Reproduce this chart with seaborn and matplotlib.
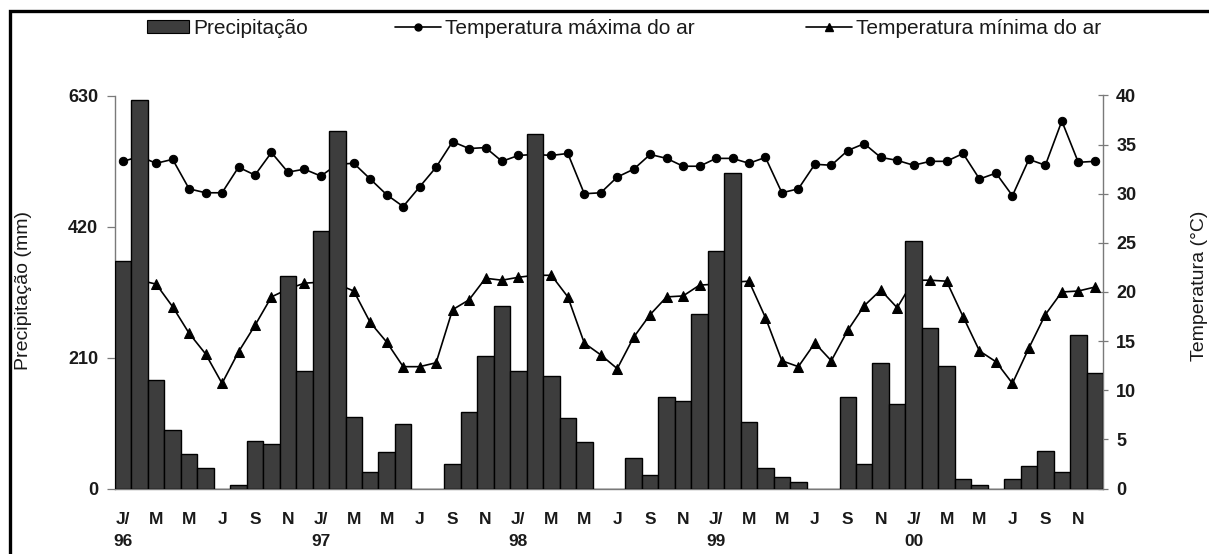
import numpy as np
import pandas as pd
import matplotlib
matplotlib.use("Agg")
import matplotlib.pyplot as plt
import seaborn as sns
from matplotlib.patches import Patch
from matplotlib.lines import Line2D

# ---------------- data (Jan/1996 .. Dec/2000) ----------------
years = ["96", "97", "98", "99", "00"]
month_letters = ["J/", "M", "M", "J", "S", "N"]  # labels on every 2nd month

precipitacao = [364, 622, 174, 93, 56, 33, 0, 5, 76, 72, 340, 189,
                412, 573, 115, 26, 58, 104, 0, 0, 39, 123, 212, 292,
                188, 568, 180, 113, 75, 0, 0, 49, 22, 147, 141, 279,
                381, 506, 107, 33, 18, 10, 0, 0, 147, 40, 201, 135,
                396, 258, 196, 15, 5, 0, 15, 36, 60, 26, 246, 185]

temp_max = [33.3, 33.8, 33.1, 33.5, 30.5, 30.1, 30.1, 32.7, 31.9, 34.2, 32.2, 32.5,
            31.8, 33.0, 33.1, 31.5, 29.9, 28.7, 30.7, 32.7, 35.3, 34.6, 34.7, 33.3,
            33.9, 34.0, 33.9, 34.1, 30.0, 30.1, 31.7, 32.5, 34.0, 33.6, 32.8, 32.8,
            33.6, 33.6, 33.1, 33.7, 30.1, 30.5, 33.0, 32.9, 34.4, 35.1, 33.7, 33.4,
            32.9, 33.3, 33.3, 34.1, 31.5, 32.1, 29.8, 33.5, 32.9, 37.4, 33.2, 33.3]

temp_min = [21.5, 21.2, 20.8, 18.5, 15.8, 13.7, 10.7, 13.9, 16.6, 19.5, 20.3, 20.9,
            21.0, 20.8, 20.1, 16.9, 14.9, 12.4, 12.4, 12.8, 18.2, 19.2, 21.4, 21.2,
            21.5, 21.7, 21.7, 19.5, 14.8, 13.6, 12.2, 15.4, 17.7, 19.5, 19.6, 20.7,
            20.8, 21.0, 21.1, 17.4, 13.0, 12.4, 14.8, 13.0, 16.1, 18.6, 20.2, 18.4,
            21.2, 21.2, 21.1, 17.5, 14.0, 12.9, 10.7, 14.3, 17.7, 20.0, 20.1, 20.5]

legend_labels = ["Precipitação", "Temperatura máxima do ar", "Temperatura mínima do ar"]

n = len(precipitacao)
df = pd.DataFrame({"mes": np.arange(n), "precip": precipitacao,
                   "tmax": temp_max, "tmin": temp_min})

# ---------------- style ----------------
sns.set_style("white")
plt.rcParams["font.family"] = ["Liberation Sans", "DejaVu Sans"]
TXT = "#1a1a1a"
SPINE = "#7a7a7a"
BAR = "#3d3d3d"

W, H = 1209, 554
fig = plt.figure(figsize=(W / 100, H / 100), dpi=100)
axT = fig.add_axes([115 / W, 1 - 488.5 / H, 988 / W, 393 / H])
axP = axT.twinx()

# temperature lines (drawn below the bars)
sns.lineplot(data=df, x="mes", y="tmax", ax=axT, color="black", linewidth=1.2,
             marker="o", markersize=6, markeredgecolor="black", zorder=2)
sns.lineplot(data=df, x="mes", y="tmin", ax=axT, color="black", linewidth=1.2,
             marker="^", markersize=7, markeredgecolor="black", zorder=2)

# precipitation bars (on top)
sns.barplot(data=df, x="mes", y="precip", ax=axP, native_scale=True, width=1.0,
            color=BAR, saturation=1, edgecolor="black", linewidth=1.0, zorder=3)

# ---------------- axes ----------------
axT.set_xlim(-0.5, n - 0.5)
axT.set_ylim(0, 40)
axP.set_ylim(0, 630)

axT.yaxis.tick_right()
axT.yaxis.set_label_position("right")
axP.yaxis.tick_left()
axP.yaxis.set_label_position("left")

axT.set_yticks(np.arange(0, 41, 5))
axP.set_yticks([0, 210, 420, 630])

# x ticks: labels every 2 months, tick marks at month boundaries
xt = list(range(0, n, 2))
xl = []
for k, i in enumerate(xt):
    m = month_letters[k % 6]
    if i % 12 == 0:
        m = m + "\n" + years[i // 12]
    xl.append(m)
axT.set_xticks(xt)
axT.set_xticklabels(xl)
axT.set_xticks(np.arange(-0.5, n, 1), minor=True)
axT.tick_params(axis="x", which="major", length=0, pad=17, labelsize=12.5,
                labelcolor=TXT)
axT.tick_params(axis="x", which="minor", length=5, width=0.9, color=SPINE,
                direction="out")
for lbl in axT.get_xticklabels():
    lbl.set_fontweight("bold")
    lbl.set_linespacing(1.55)

axT.tick_params(axis="y", which="major", length=7, width=0.9, color=SPINE,
                direction="inout", labelsize=13, pad=6, labelcolor=TXT)
axP.tick_params(axis="y", which="major", length=6, width=0.9, color=SPINE,
                direction="out", labelsize=13, pad=6, labelcolor=TXT)
for lbl in axT.get_yticklabels() + axP.get_yticklabels():
    lbl.set_fontweight("bold")

axT.set_xlabel("")
axP.set_xlabel("")
axT.set_ylabel("Temperatura (°C)", fontsize=14, color=TXT)
axP.set_ylabel("Precipitação (mm)", fontsize=14, color=TXT)
axT.yaxis.set_label_coords(1.089, 0.515)
axP.yaxis.set_label_coords(-0.084, 0.505)

for s in ["top", "left"]:
    axT.spines[s].set_visible(False)
axT.spines["right"].set_color(SPINE)
axT.spines["bottom"].set_color(SPINE)
axT.spines["right"].set_linewidth(1.0)
axT.spines["bottom"].set_linewidth(1.0)
for s in ["top", "right", "bottom"]:
    axP.spines[s].set_visible(False)
axP.spines["left"].set_color(SPINE)
axP.spines["left"].set_linewidth(1.0)
axT.grid(False)
axP.grid(False)

# ---------------- legends (top) ----------------
h_bar = Patch(facecolor=BAR, edgecolor="black", linewidth=0.8)
h_max = Line2D([], [], color="black", linewidth=1.2, marker="o", markersize=5)
h_min = Line2D([], [], color="black", linewidth=1.2, marker="^", markersize=6)
ly = 1 - 28 / H
for h, lab, x0, hl in [(h_bar, legend_labels[0], 147, 2.0),
                       (h_max, legend_labels[1], 395, 2.2),
                       (h_min, legend_labels[2], 806, 2.2)]:
    fig.legend(handles=[h], labels=[lab], loc="center left",
               bbox_to_anchor=(x0 / W, ly), frameon=False, borderpad=0,
               borderaxespad=0, handlelength=hl, handletextpad=0.2,
               fontsize=15, labelcolor=TXT, handleheight=0.6)

# outer frame (top and left edges of the original figure box)
fx = 10 / W
fy = 1 - 11.3 / H
fig.add_artist(Line2D([fx, fx, 1.02], [-0.02, fy, fy], transform=fig.transFigure,
                      color="black", linewidth=2.4, solid_joinstyle="miter"))

fig.savefig("out.png", dpi=100, facecolor="white")
